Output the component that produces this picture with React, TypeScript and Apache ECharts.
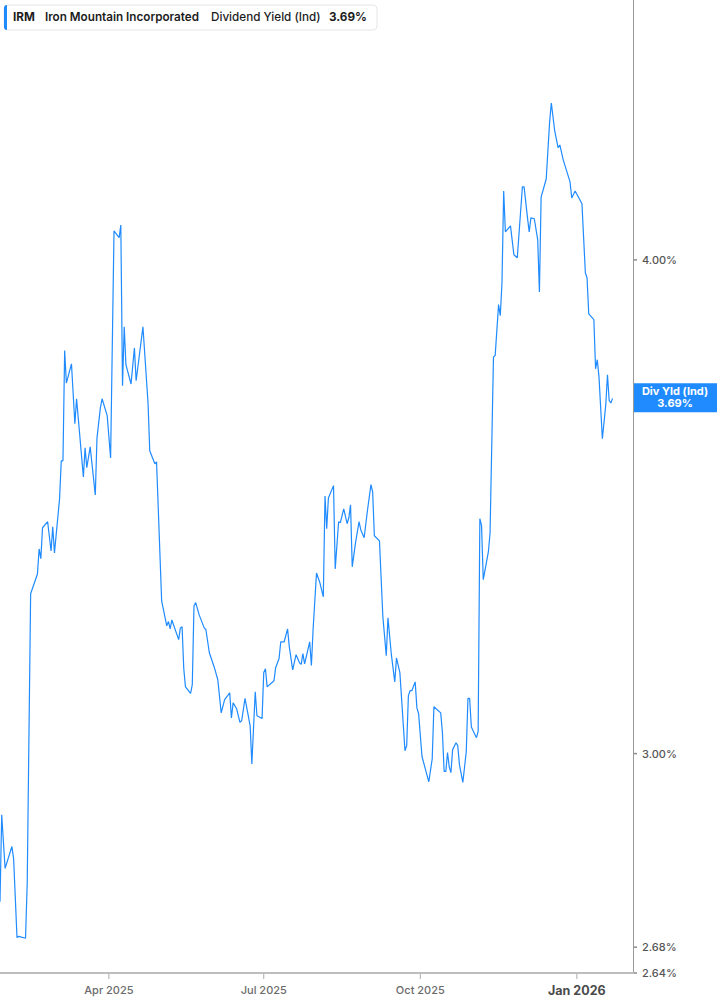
import React, { useEffect, useRef } from "react";
import * as echarts from "echarts";

const dates: string[] = [
  "2025-01-27","2025-01-28","2025-01-30","2025-02-03","2025-02-04","2025-02-06","2025-02-07","2025-02-11","2025-02-12","2025-02-14",
  "2025-02-18","2025-02-19","2025-02-20","2025-02-21","2025-02-24","2025-02-26","2025-02-27","2025-02-28","2025-03-03","2025-03-04",
  "2025-03-05","2025-03-06","2025-03-07","2025-03-10","2025-03-12","2025-03-13","2025-03-17","2025-03-18","2025-03-19","2025-03-21",
  "2025-03-24","2025-03-25","2025-03-27","2025-03-28","2025-03-31","2025-04-02","2025-04-04","2025-04-07","2025-04-08","2025-04-09",
  "2025-04-10","2025-04-11","2025-04-14","2025-04-16","2025-04-17","2025-04-21","2025-04-24","2025-04-25","2025-04-28","2025-04-29",
  "2025-05-02","2025-05-05","2025-05-06","2025-05-07","2025-05-08","2025-05-12","2025-05-13","2025-05-14","2025-05-15","2025-05-16",
  "2025-05-19","2025-05-20","2025-05-21","2025-05-22","2025-05-24","2025-05-27","2025-05-28","2025-05-30","2025-06-02","2025-06-04",
  "2025-06-06","2025-06-08","2025-06-11","2025-06-12","2025-06-13","2025-06-15","2025-06-17","2025-06-18","2025-06-20","2025-06-23",
  "2025-06-24","2025-06-26","2025-06-27","2025-06-30","2025-07-01","2025-07-02","2025-07-03","2025-07-07","2025-07-08","2025-07-10",
  "2025-07-11","2025-07-13","2025-07-15","2025-07-16","2025-07-18","2025-07-20","2025-07-22","2025-07-23","2025-07-24","2025-07-25",
  "2025-07-28","2025-07-29","2025-07-30","2025-08-01","2025-08-03","2025-08-05","2025-08-06","2025-08-07","2025-08-08","2025-08-11",
  "2025-08-12","2025-08-14","2025-08-15","2025-08-17","2025-08-19","2025-08-20","2025-08-21","2025-08-22","2025-08-24","2025-08-26",
  "2025-08-27","2025-08-29","2025-08-31","2025-09-02","2025-09-03","2025-09-04","2025-09-07","2025-09-09","2025-09-11","2025-09-12",
  "2025-09-14","2025-09-16","2025-09-17","2025-09-19","2025-09-22","2025-09-23","2025-09-24","2025-09-25","2025-09-26","2025-09-28",
  "2025-09-29","2025-09-30","2025-10-02","2025-10-06","2025-10-08","2025-10-09","2025-10-13","2025-10-14","2025-10-15","2025-10-16",
  "2025-10-17","2025-10-18","2025-10-19","2025-10-20","2025-10-22","2025-10-23","2025-10-24","2025-10-26","2025-10-28","2025-10-29",
  "2025-10-30","2025-10-31","2025-11-03","2025-11-04","2025-11-05","2025-11-06","2025-11-07","2025-11-10","2025-11-11","2025-11-13",
  "2025-11-14","2025-11-16","2025-11-17","2025-11-18","2025-11-19","2025-11-20","2025-11-23","2025-11-25","2025-11-27","2025-11-30",
  "2025-12-01","2025-12-03","2025-12-04","2025-12-05","2025-12-07","2025-12-09","2025-12-10","2025-12-11","2025-12-14","2025-12-16",
  "2025-12-17","2025-12-19","2025-12-21","2025-12-22","2025-12-24","2025-12-28","2025-12-29","2025-12-31","2026-01-04","2026-01-06",
  "2026-01-07","2026-01-08","2026-01-11","2026-01-12","2026-01-13","2026-01-14","2026-01-16","2026-01-18","2026-01-19","2026-01-20",
  "2026-01-21","2026-01-22",
];

const yields: number[] = [
  2.752,2.895,2.806,2.842,2.822,2.695,2.697,2.694,2.783,3.293,
  3.331,3.380,3.361,3.422,3.434,3.376,3.424,3.372,3.480,3.558,
  3.558,3.794,3.723,3.765,3.636,3.689,3.525,3.585,3.544,3.587,
  3.488,3.606,3.670,3.689,3.653,3.564,4.068,4.052,4.082,3.717,
  3.847,3.763,3.721,3.800,3.728,3.847,3.680,3.579,3.552,3.556,
  3.279,3.232,3.240,3.226,3.243,3.206,3.228,3.230,3.152,3.119,
  3.107,3.123,3.270,3.276,3.253,3.228,3.225,3.182,3.154,3.132,
  3.072,3.096,3.108,3.063,3.090,3.080,3.055,3.058,3.098,3.049,
  2.982,3.110,3.067,3.062,3.145,3.152,3.119,3.130,3.154,3.171,
  3.202,3.202,3.226,3.193,3.150,3.178,3.163,3.160,3.180,3.161,
  3.202,3.158,3.225,3.333,3.314,3.287,3.486,3.420,3.482,3.507,
  3.341,3.434,3.432,3.460,3.430,3.442,3.468,3.345,3.394,3.434,
  3.418,3.402,3.458,3.509,3.494,3.406,3.396,3.249,3.176,3.247,
  3.178,3.128,3.172,3.145,3.005,3.014,3.103,3.112,3.112,3.128,
  3.081,3.071,2.995,2.951,2.991,3.083,3.072,3.037,2.969,2.969,
  3.002,2.977,2.967,3.007,3.019,3.014,2.981,2.950,3.003,3.098,
  3.098,3.047,3.028,3.039,3.440,3.426,3.320,3.374,3.412,3.780,
  3.783,3.897,3.872,3.947,4.164,4.066,4.080,4.012,4.005,4.174,
  4.174,4.099,4.066,4.099,4.097,4.047,3.926,4.149,4.193,4.335,
  4.383,4.312,4.270,4.277,4.240,4.186,4.147,4.164,4.133,3.970,
  3.958,3.876,3.863,3.754,3.774,3.737,3.604,3.676,3.741,3.685,
  3.680,3.690,
];

const xTickDates: string[] = ["2025-04-01", "2025-07-01", "2025-10-01", "2026-01-01"];
const xTickLabels: string[] = ["Apr 2025", "Jul 2025", "Oct 2025", "Jan 2026"];
const yTickValues: number[] = [2.64, 2.68, 3.0, 4.0];

const ticker = "IRM";
const companyName = "Iron Mountain Incorporated";
const metricName = "Dividend Yield (Ind)";
const shortMetric = "Div Yld (Ind)";
const lastValue = 3.69;

const X_MIN = "2025-01-27";
const X_MAX = "2026-02-03";
const Y_MIN = 2.64;
const Y_MAX = 4.654;

const BLUE = "#1f8bff";
const FONT = "Inter, 'Noto Sans', sans-serif";

export default function App() {
  const ref = useRef<HTMLDivElement>(null);

  useEffect(() => {
    if (!ref.current) return;
    const chart = echarts.init(ref.current, undefined, { renderer: "svg" });

    chart.setOption({
      animation: false,
      grid: { left: 0, right: 84, top: 0, bottom: 32, containLabel: false },
      xAxis: {
        type: "time",
        min: X_MIN,
        max: X_MAX,
        axisLine: { show: true, lineStyle: { color: "#bdbdbd", width: 2 } },
        axisTick: { show: false },
        axisLabel: { show: false },
        splitLine: { show: false },
      },
      yAxis: {
        type: "log",
        logBase: 10,
        position: "right",
        min: Y_MIN,
        max: Y_MAX,
        axisLine: { show: true, lineStyle: { color: "#9a9a9a", width: 1 } },
        axisTick: { show: false },
        axisLabel: { show: false },
        splitLine: { show: false },
      },
      series: [
        {
          type: "line",
          data: dates.map((d, i) => [d, yields[i]]),
          showSymbol: false,
          symbol: "none",
          silent: true,
          lineStyle: { color: BLUE, width: 1.2 },
        },
      ],
    });

    const axisX = chart.convertToPixel({ xAxisIndex: 0 }, X_MAX) as number;
    const axisY = chart.convertToPixel({ yAxisIndex: 0 }, Y_MIN) as number;
    const graphics: any[] = [];

    // x axis ticks and labels
    xTickDates.forEach((d, i) => {
      const px = chart.convertToPixel({ xAxisIndex: 0 }, d) as number;
      const isJan = xTickLabels[i].indexOf("Jan") === 0;
      graphics.push({
        type: "line",
        shape: { x1: px, y1: axisY + 1, x2: px, y2: axisY + 6 },
        style: { stroke: "#aaaaaa", lineWidth: 1 },
        silent: true,
      });
      graphics.push({
        type: "text",
        x: px,
        y: axisY + 17,
        style: {
          text: xTickLabels[i],
          fill: isJan ? "#4a4a4a" : "#6b6b6b",
          font: (isJan ? "700 12.5px " : "500 11px ") + FONT,
          textAlign: "center",
          textVerticalAlign: "middle",
        },
        silent: true,
      });
    });

    // y axis ticks and labels
    yTickValues.forEach((v) => {
      const py = chart.convertToPixel({ yAxisIndex: 0 }, v) as number;
      graphics.push({
        type: "line",
        shape: { x1: axisX + 1, y1: py, x2: axisX + 4, y2: py },
        style: { stroke: "#8a8a8a", lineWidth: 1.5 },
        silent: true,
      });
      graphics.push({
        type: "text",
        x: axisX + 9,
        y: py,
        style: {
          text: v.toFixed(2) + "%",
          fill: "#555555",
          font: "500 11px " + FONT,
          textAlign: "left",
          textVerticalAlign: "middle",
        },
        silent: true,
      });
    });

    // last value badge
    const lastY = chart.convertToPixel({ yAxisIndex: 0 }, lastValue) as number;
    graphics.push({
      type: "rect",
      shape: { x: axisX + 1, y: lastY - 15, width: 717 - axisX - 1, height: 29 },
      style: { fill: BLUE },
      silent: true,
    });
    graphics.push({
      type: "text",
      x: axisX + 42,
      y: lastY - 7,
      style: {
        text: shortMetric,
        fill: "#ffffff",
        font: "700 11px " + FONT,
        textAlign: "center",
        textVerticalAlign: "middle",
      },
      silent: true,
    });
    graphics.push({
      type: "text",
      x: axisX + 42,
      y: lastY + 5,
      style: {
        text: lastValue.toFixed(2) + "%",
        fill: "#ffffff",
        font: "700 11px " + FONT,
        textAlign: "center",
        textVerticalAlign: "middle",
      },
      silent: true,
    });

    // legend box
    graphics.push({
      type: "rect",
      shape: { x: 4, y: 5, width: 373, height: 25, r: 4 },
      style: { fill: "#ffffff", stroke: "#e6e6e6", lineWidth: 1 },
      silent: true,
    });
    graphics.push({
      type: "rect",
      shape: { x: 4, y: 5, width: 3, height: 25, r: [3, 0, 0, 3] },
      style: { fill: BLUE },
      silent: true,
    });
    const legendTexts: [string, number, number][] = [
      [ticker, 13, 700],
      [companyName, 45, 600],
      [metricName, 211, 500],
      [lastValue.toFixed(2) + "%", 329, 700],
    ];
    legendTexts.forEach(([t, x, w]) => {
      graphics.push({
        type: "text",
        x,
        y: 17,
        style: {
          text: t,
          fill: "#1c1c1c",
          font: w + " 11.7px " + FONT,
          textAlign: "left",
          textVerticalAlign: "middle",
        },
        silent: true,
      });
    });

    chart.setOption({ graphic: graphics });

    return () => chart.dispose();
  }, []);

  return (
    <div
      ref={ref}
      style={{ position: "fixed", left: 0, top: 0, width: 717, height: 1005, background: "#ffffff" }}
    />
  );
}
